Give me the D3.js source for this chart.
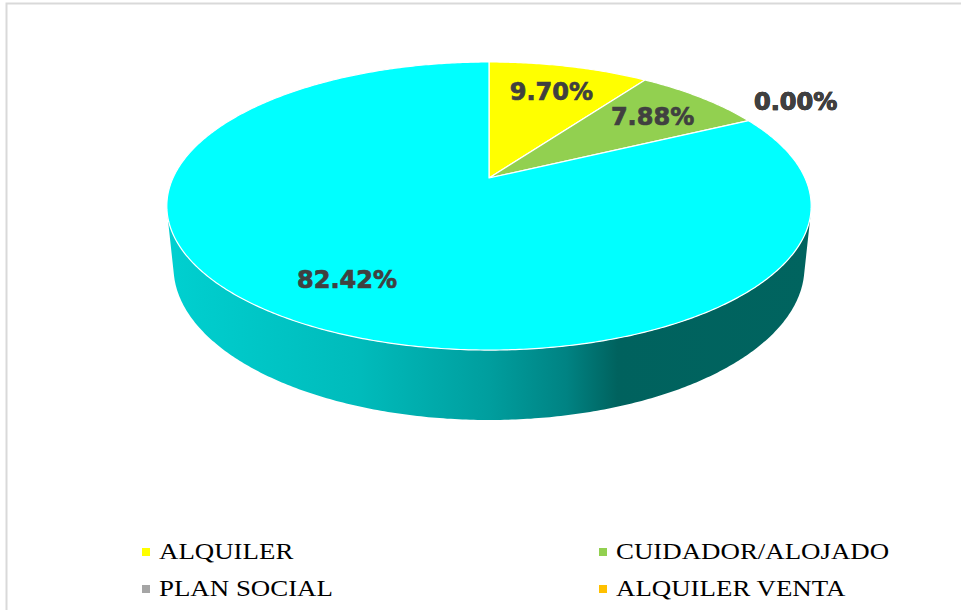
<!DOCTYPE html>
<html>
<head>
  <meta charset="utf-8">
  <title>3D Pie</title>
  <style>
  body { margin: 0; background: #fff; }
  .pct {
    font-family: "DejaVu Sans", sans-serif;
    font-weight: bold;
    font-size: 24px;
    fill: #404040;
    stroke: #404040;
    stroke-width: 0.7px;
    text-anchor: middle;
  }
  .legend-font {
    font-family: "Liberation Serif", "Times New Roman", serif;
    font-size: 24px;
    fill: #000;
  }
  </style>
</head>
<body>
  <div id="chart"></div>
  <script src="https://cdn.jsdelivr.net/npm/d3@7/dist/d3.min.js"></script>
  <script>
  // data
  var categories = ["ALQUILER", "CUIDADOR/ALOJADO", "PLAN SOCIAL", "ALQUILER VENTA", "PROPIA"];
  var shares = [9.70, 7.88, 0.00, 0.00, 82.42];
  var colors = ["#FFFF00", "#92D050", "#A5A5A5", "#FFC000", "#00FFFF"];
  var legendShown = 4; // the last legend row is below the visible area

  var width = 961, height = 610;

  var svg = d3.select("#chart")
    .append("svg")
    .attr("width", width)
    .attr("height", height);

  // chart area border (right/bottom edges fall outside the window)
  svg.append("rect")
    .attr("x", 6.5).attr("y", 3.5)
    .attr("width", 1000).attr("height", 700)
    .attr("fill", "none")
    .attr("stroke", "#D9D9D9")
    .attr("stroke-width", 2);

  //perspective camera for the tilted pie
  var cx = 489, cy = 178;
  var focal = 1460, dist = 4.62;
  var sinE = 0.4386, cosE = Math.sqrt(1 - sinE * sinE);
  var depth = 0.2157;

  function project(theta, r, level) {
    var X = r * Math.sin(theta), Z = r * Math.cos(theta), Y = -level * depth;
    var w = dist + Z * cosE - Y * sinE;
    return [cx + focal * X / w, cy - focal * (Y * cosE + Z * sinE) / w];
  }

  function arcPoints(a0, a1, r, level) {
    var n = Math.max(2, Math.ceil((a1 - a0) / 0.01));
    return d3.range(n + 1).map(function(i) {
      return project(a0 + (a1 - a0) * i / n, r, level);
    });
  }

  var pie = d3.pie().sort(null).value(function(d) { return d.value; });
  var arcs = pie(categories.map(function(c, i) {
    return {name: c, value: shares[i], color: colors[i]};
  }));

  var line = d3.line();

  // side gradient
  var defs = svg.append("defs");
  var grad = defs.append("linearGradient")
    .attr("id", "side")
    .attr("gradientUnits", "userSpaceOnUse")
    .attr("x1", 167).attr("x2", 811).attr("y1", 0).attr("y2", 0);
  [[0, "#00D0D0"], [0.3, "#00BBBB"], [0.5, "#009E9E"], [0.62, "#008383"],
   [0.7, "#00625E"], [1, "#00645F"]].forEach(function(s) {
    grad.append("stop").attr("offset", s[0]).attr("stop-color", s[1]);
  });

  // visible part of the outer wall
  var visA = Math.acos(-1 / (dist * cosE)), visB = 2 * Math.PI - visA;

  svg.append("g")
    .selectAll("path")
    .data(arcs.filter(function(d) {
      return Math.min(d.endAngle, visB) > Math.max(d.startAngle, visA);
    }))
    .enter()
    .append("path")
    .attr("d", function(d) {
      var s = Math.max(d.startAngle, visA), t = Math.min(d.endAngle, visB);
      var pts = arcPoints(s, t, 1, 0).concat(arcPoints(s, t, 1, 1).reverse());
      return line(pts) + "Z";
    })
    .attr("fill", function(d) {
      return d.data.color === "#00FFFF" ? "url(#side)" : d3.color(d.data.color).darker(1.2);
    });

  // top face
  svg.append("g")
    .selectAll("path")
    .data(arcs.filter(function(d) { return d.value > 0; }))
    .enter()
    .append("path")
    .attr("d", function(d) {
      var pts = [project(0, 0, 0)].concat(arcPoints(d.startAngle, d.endAngle, 1, 0));
      return line(pts) + "Z";
    })
    .attr("fill", function(d) { return d.data.color; })
    .attr("stroke", "#fff")
    .attr("stroke-width", 1.2)
    .attr("stroke-linejoin", "round");

  // percentage labels: inside the slice, or just outside when the slice is empty
  svg.append("g")
    .selectAll("text")
    .data(arcs)
    .enter()
    .append("text")
    .attr("class", "pct")
    .attr("transform", function(d) {
      var mid = (d.startAngle + d.endAngle) / 2;
      var p = project(mid, d.value > 0 ? 0.75 : 1.2, 0);
      return "translate(" + p[0] + "," + p[1] + ")";
    })
    .attr("dy", function(d) { return d.value > 0 ? "0.36em" : "0"; })
    .text(function(d) { return d.value.toFixed(2) + "%"; });

  // legend, two columns
  var legend = svg.append("g")
    .attr("class", "legend-font")
    .selectAll("g")
    .data(arcs.slice(0, legendShown))
    .enter().append("g")
    .attr("transform", function(d, i) {
      return "translate(" + (142 + (i % 2) * 457) + "," + (559 + Math.floor(i / 2) * 37) + ")";
    });

  legend.append("rect")
    .attr("x", 0).attr("y", -11)
    .attr("width", 8).attr("height", 8)
    .attr("fill", function(d) { return d.data.color; });

  legend.append("text")
    .attr("transform", "translate(17,0) scale(1.12,1)")
    .text(function(d) { return d.data.name; });
  </script>
</body>
</html>
